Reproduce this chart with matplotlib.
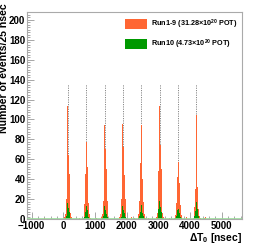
import matplotlib
matplotlib.use("Agg")
import matplotlib.pyplot as plt
from matplotlib.patches import Patch
from matplotlib.ticker import MultipleLocator
import numpy as np

plt.rcParams['font.family'] = ['Liberation Sans', 'DejaVu Sans']
plt.rcParams['font.weight'] = 'bold'
plt.rcParams['mathtext.fontset'] = 'custom'
plt.rcParams['mathtext.rm'] = 'Liberation Sans:bold'
plt.rcParams['mathtext.bf'] = 'Liberation Sans:bold'
plt.rcParams['mathtext.default'] = 'bf'

# ---- data ----
bin_width = 25  # ns
bunch_centers = [140, 730, 1310, 1880, 2460, 3040, 3620, 4200]
bin_offsets = [-100, -75, -50, -25, 0, 25, 50, 75, 100, 125]

run19_b1 = [2, 5, 20, 56, 114, 64, 45, 20, 6, 2]
run19_b2 = [1, 4, 15, 45, 77, 52, 38, 16, 5, 1]
run19_b3 = [2, 5, 18, 52, 94, 70, 50, 18, 5, 1]
run19_b4 = [2, 5, 20, 48, 95, 72, 44, 20, 6, 1]
run19_b5 = [1, 5, 18, 56, 94, 62, 40, 17, 5, 1]
run19_b6 = [2, 6, 22, 48, 114, 74, 50, 22, 6, 2]
run19_b7 = [1, 4, 16, 42, 83, 57, 36, 14, 4, 1]
run19_b8 = [1, 4, 12, 30, 105, 32, 20, 10, 3, 1]

run10_b1 = [0, 1, 3, 9, 16, 11, 7, 3, 1, 0]
run10_b2 = [0, 1, 2, 7, 13, 9, 5, 2, 0, 0]
run10_b3 = [0, 1, 3, 8, 13, 9, 5, 2, 1, 0]
run10_b4 = [0, 0, 2, 8, 13, 9, 6, 2, 0, 0]
run10_b5 = [0, 1, 3, 7, 14, 10, 6, 3, 1, 0]
run10_b6 = [0, 1, 4, 10, 18, 12, 7, 3, 1, 0]
run10_b7 = [0, 1, 3, 9, 16, 10, 6, 2, 1, 0]
run10_b8 = [0, 1, 3, 8, 17, 10, 5, 3, 0, 0]

bg_times = [-600, 500, 1050, 1600, 2150, 2250, 2700, 3350, 3900, 4450, 4500, 5450]
bg_counts = [1, 1, 1, 1, 2, 1, 1, 1, 2, 1, 2, 1]

marker_top = 136

run19_label = "Run1-9 (31.28×10$^{20}$ POT)"
run10_label = "Run10 (4.73×10$^{20}$ POT)"
orange = '#ff6633'
green = '#009900'

run19 = [run19_b1, run19_b2, run19_b3, run19_b4, run19_b5, run19_b6, run19_b7, run19_b8]
run10 = [run10_b1, run10_b2, run10_b3, run10_b4, run10_b5, run10_b6, run10_b7, run10_b8]

W, H = 269, 245
fig = plt.figure(figsize=(W / 100, H / 100), dpi=100)
ax = fig.add_axes([27 / W, 26 / H, (241.7 - 27) / W, (232.5 - 26) / H])

ax.vlines(bunch_centers, 0, marker_top, colors='#888888', linestyles=(0, (1.2, 1.2)), lw=0.7, zorder=1)

for c, o, g in zip(bunch_centers, run19, run10):
    edges = [c + d - bin_width / 2 for d in bin_offsets] + [c + bin_offsets[-1] + bin_width / 2]
    ax.stairs(o, edges, fill=True, color=orange, lw=0, zorder=2)
    ax.stairs(g, edges, fill=True, color=green, lw=0, zorder=3)
ax.bar(bg_times, bg_counts, width=bin_width, color=orange, lw=0, zorder=2)
ax.axhline(0, color='#99dd99', lw=1.2, zorder=4)

ax.set_xlim(-1145, 5630)
ax.set_ylim(0, 207.5)
ax.xaxis.set_major_locator(MultipleLocator(1000))
ax.xaxis.set_minor_locator(MultipleLocator(200))
ax.yaxis.set_major_locator(MultipleLocator(20))
ax.yaxis.set_minor_locator(MultipleLocator(2.5))
ax.tick_params(which='both', direction='in', color='#999999', width=0.6)
ax.tick_params(which='major', length=4.8)
ax.tick_params(which='minor', length=2.2)
ax.tick_params(axis='y', pad=1.2, labelsize=7.0)
ax.tick_params(axis='x', pad=1.5, labelsize=7.0)
for lab in ax.get_xticklabels() + ax.get_yticklabels():
    lab.set_fontweight('bold')
for s in ax.spines.values():
    s.set_color('#aaaaaa')
    s.set_linewidth(0.8)

fig.text(4.5 / W, 1 - 3 / H, "Number of events/25 nsec", rotation=90, ha='center', va='top',
         fontsize=7.6, fontweight='bold')
fig.text(241.7 / W, 1 - 238 / H, "ΔT$_{0}$ [nsec]", ha='right', va='center',
         fontsize=7.5, fontweight='bold')

handles = [Patch(facecolor=orange, edgecolor='none'), Patch(facecolor=green, edgecolor='none')]
ax.legend(handles, [run19_label, run10_label], loc='upper left',
          bbox_to_anchor=(125 / W, 1 - 17.7 / H), bbox_transform=fig.transFigure,
          frameon=False, handlelength=3.0, handleheight=1.7,
          handletextpad=0.55, labelspacing=0.9, borderpad=0, borderaxespad=0,
          prop={'weight': 'bold', 'size': 5.2})

fig.savefig('out.png', dpi=100)
